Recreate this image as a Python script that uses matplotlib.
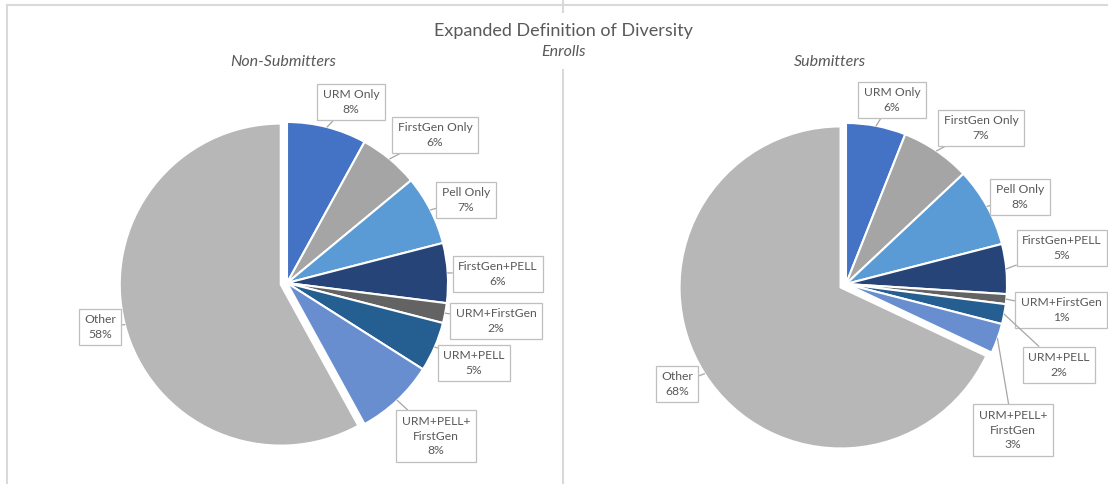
import matplotlib
matplotlib.use("Agg")
import matplotlib.pyplot as plt
from matplotlib.lines import Line2D
import numpy as np

# ---------------- data ----------------
categories = ["URM Only", "FirstGen Only", "Pell Only", "FirstGen+PELL",
              "URM+FirstGen", "URM+PELL", "URM+PELL+\nFirstGen", "Other"]
non_submitters = [8, 6, 7, 6, 2, 5, 8, 58]
submitters = [6, 7, 8, 5, 1, 2, 3, 68]
colors = ["#4472C4", "#A5A5A5", "#5B9BD5", "#264478",
          "#636363", "#255E91", "#698ED0", "#B7B7B7"]
title = "Expanded Definition of Diversity"
subtitle = "Enrolls"
panel_titles = ["Non-Submitters", "Submitters"]

# ---------------- layout (pixels, y from top) ----------------
W, H = 1108, 484
R = 161
S = 215
centers = [(287, 283), (846, 284)]
explode = [0, 0, 0, 0, 0, 0, 0, 0.04]
label_pos = [
    [(351, 102), (435, 135), (466, 200), (498, 274), (496, 321), (474, 363), (436, 436), (100, 327)],
    [(892, 100), (981, 128), (1020, 197), (1062, 248), (1061, 310), (1059, 365), (1013, 430), (677, 384)],
]
panel_title_pos = [(283, 62), (830, 62)]

plt.rcParams['font.family'] = ['Lato', 'DejaVu Sans']
text_color = "#595959"

fig = plt.figure(figsize=(W / 100, H / 100), dpi=100)


def fx(x):
    return x / W


def fy(y):
    return 1 - y / H


for i, (vals, (cx, cy)) in enumerate(zip([non_submitters, submitters], centers)):
    ax = fig.add_axes([(cx - S) / W, (H - cy - S) / H, 2 * S / W, 2 * S / H])
    wedges, _ = ax.pie(vals, colors=colors, startangle=90, counterclock=False,
                       explode=explode, radius=1.0,
                       wedgeprops=dict(edgecolor="white", linewidth=1.5))
    ax.set_xlim(-S / R, S / R)
    ax.set_ylim(-S / R, S / R)
    ax.set_aspect("equal")
    ax.axis("off")
    for j, w in enumerate(wedges):
        mid = np.deg2rad((w.theta1 + w.theta2) / 2)
        ex = explode[j]
        px = (1 + ex) * np.cos(mid)
        py = (1 + ex) * np.sin(mid)
        lx, ly = label_pos[i][j]
        ax.annotate(f"{categories[j]}\n{vals[j]}%", xy=(px, py), xycoords="data",
                    xytext=(lx, H - ly), textcoords="figure pixels",
                    ha="center", va="center", multialignment="center",
                    fontsize=8.7, color=text_color, linespacing=1.4,
                    bbox=dict(boxstyle="square,pad=0.45", fc="white", ec="#bfbfbf", lw=0.9),
                    arrowprops=dict(arrowstyle="-", color="#a6a6a6", lw=0.9,
                                    shrinkA=0, shrinkB=0),
                    annotation_clip=False)
    tx, ty = panel_title_pos[i]
    fig.text(fx(tx), fy(ty), panel_titles[i], ha="center", va="center",
             fontsize=11.5, style="italic", color=text_color)

fig.text(fx(563), fy(31), title, ha="center", va="center", fontsize=13, color=text_color)
fig.text(fx(563), fy(52), subtitle, ha="center", va="center", fontsize=11.5,
         style="italic", color=text_color)

line_color = "#d9d9d9"
fig.add_artist(Line2D([fx(563), fx(563)], [fy(0), fy(12)], color=line_color, lw=1.5))
fig.add_artist(Line2D([fx(563), fx(563)], [fy(70), fy(484)], color=line_color, lw=1.5))
fig.add_artist(Line2D([fx(7), fx(7)], [fy(5), fy(484)], color=line_color, lw=1.5))
fig.add_artist(Line2D([fx(7), fx(1108)], [fy(5), fy(5)], color=line_color, lw=1.5))

fig.savefig("out.png", dpi=100, facecolor="white")
